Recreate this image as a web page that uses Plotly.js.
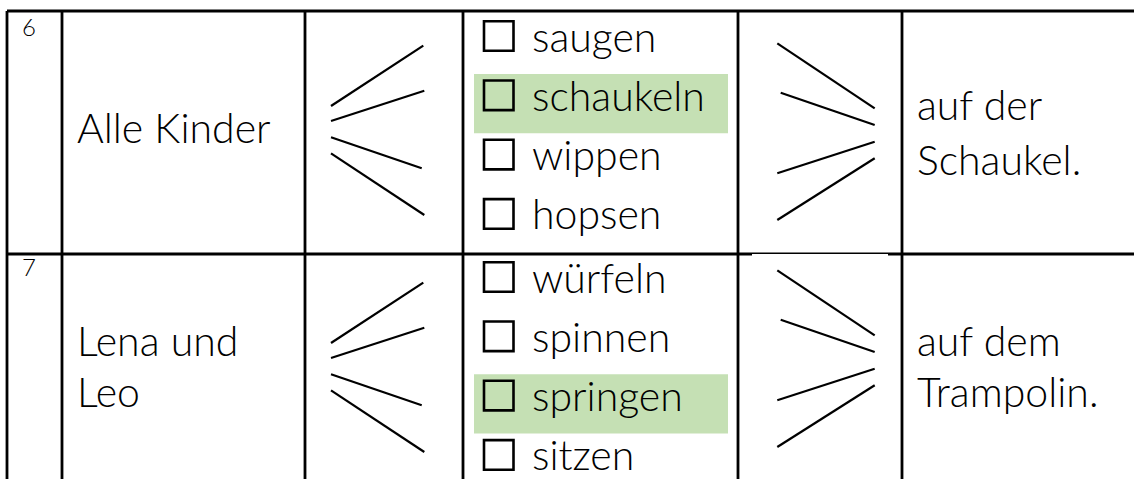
<!DOCTYPE html>
<html>
<head>
<meta charset="utf-8">
<script src="https://cdn.plot.ly/plotly-3.0.1.min.js"></script>
<style>html,body{margin:0;padding:0;background:#fff;}#chart{width:1134px;height:479px;}</style>
</head>
<body>
<div id="chart"></div>
<script>
// ---- content (data) ----
const taskNumbers = ['6', '7'];
const subjectLines = [['Alle Kinder'], ['Lena und', 'Leo']];
const verbOptions = [
  ['saugen', 'schaukeln', 'wippen', 'hopsen'],
  ['würfeln', 'spinnen', 'springen', 'sitzen']
];
const correctIndex = [1, 2];
const endingLines = [['auf der', 'Schaukel.'], ['auf dem', 'Trampolin.']];

// ---- layout geometry (positions / styles) ----
const W = 1134, H = 479;
const colX = [7, 62, 305, 463, 738, 902];
const topY = 11, sepY = 254;
const rows = [
  {num: 26, subj: [143], end: [120, 175], item0: 36, fanL: 0, fanR: 0},
  {num: 266, subj: [356, 407], end: [356, 407], item0: 277, fanL: 237, fanR: 227}
];
const itemStep = 59.3;
const leftFan = [[331,106,423.3,45.7],[331,121,424.3,90.7],[331,137.3,421.7,168.3],[331,153.3,424.3,215]];
const rightFan = [[777.3,43.3,874.7,108.3],[780.7,92.7,874.7,125],[777.3,173.3,874.7,141.7],[777.3,220,874.7,158.3]];
const FONT = 'Lato, "Open Sans", sans-serif';
const FS = 41;
const baseToMid = 15.8;
const green = '#C5E0B4';

const shapes = [];
const annotations = [];
const line = (x0,y0,x1,y1,w) => ({type:'line', xref:'x', yref:'y', x0, y0, x1, y1, line:{color:'#000', width:w}, layer:'above'});

// table grid
shapes.push(line(colX[0], topY, W, topY, 2.8));
shapes.push(line(colX[0], sepY, 752, sepY, 2.8));
shapes.push(line(752, sepY - 0.7, 888, sepY - 0.7, 1.6));
shapes.push(line(888, sepY, W, sepY, 2.8));
colX.forEach(x => shapes.push(line(x, topY, x, H + 5, 2.8)));

rows.forEach((g, r) => {
  // task number
  annotations.push({x: 29, y: g.num, text: taskNumbers[r], showarrow: false, xanchor: 'center', yanchor: 'middle',
    font: {family: FONT, size: 24, color: '#000', weight: 300}});
  // subject
  subjectLines[r].forEach((t, k) => annotations.push({x: 75, y: g.subj[k] - baseToMid, text: t, showarrow: false,
    xanchor: 'left', yanchor: 'middle', font: {family: FONT, size: FS, color: '#000', weight: 300}}));
  // ending
  endingLines[r].forEach((t, k) => annotations.push({x: 915, y: g.end[k] - baseToMid, text: t, showarrow: false,
    xanchor: 'left', yanchor: 'middle', font: {family: FONT, size: FS, color: '#000', weight: 300}}));
  // fans
  leftFan.forEach(f => shapes.push(line(f[0], f[1] + g.fanL, f[2], f[3] + g.fanL, 2.2)));
  rightFan.forEach(f => shapes.push(line(f[0], f[1] + g.fanR, f[2], f[3] + g.fanR, 2.2)));
  // options
  verbOptions[r].forEach((v, i) => {
    const cy = g.item0 + i * itemStep;
    if (i === correctIndex[r]) {
      shapes.push({type: 'rect', xref: 'x', yref: 'y', x0: 474, x1: 728, y0: cy - 21.4, y1: cy + 38,
        fillcolor: green, line: {width: 0}, layer: 'below'});
    }
    shapes.push({type: 'rect', xref: 'x', yref: 'y', x0: 484, x1: 513.5, y0: cy - 14.8, y1: cy + 14.8,
      fillcolor: 'rgba(0,0,0,0)', line: {color: '#000', width: 2.6}, layer: 'above'});
    annotations.push({x: 530, y: cy, text: v, showarrow: false, xanchor: 'left', yanchor: 'middle',
      font: {family: FONT, size: FS, color: '#000', weight: 300}});
  });
});

const layout = {
  width: W, height: H, autosize: false,
  margin: {l: 0, r: 0, t: 0, b: 0, pad: 0},
  paper_bgcolor: '#fff', plot_bgcolor: '#fff',
  showlegend: false,
  xaxis: {range: [0, W], visible: false, fixedrange: true},
  yaxis: {range: [H, 0], visible: false, fixedrange: true},
  shapes, annotations
};
Plotly.newPlot('chart', [{x: [], y: [], type: 'scatter', mode: 'lines', hoverinfo: 'skip'}], layout,
  {displayModeBar: false, staticPlot: true});
</script>
</body>
</html>
